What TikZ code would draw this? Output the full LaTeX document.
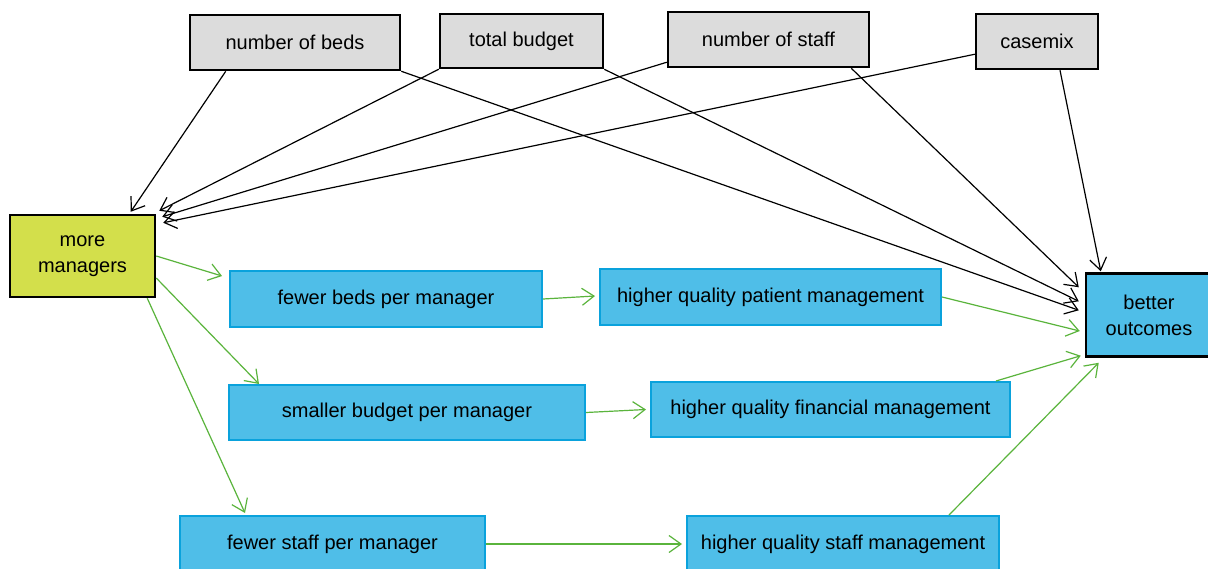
\documentclass[tikz,border=0pt]{standalone}
\usepackage{fontspec}
\setmainfont{Liberation Sans}
\usetikzlibrary{arrows.meta,calc}
\definecolor{boxgray}{HTML}{DCDCDC}
\definecolor{boxblue}{HTML}{4FBEE8}
\definecolor{bordblue}{HTML}{0AA2DC}
\definecolor{boxgreen}{HTML}{D3DF4B}
\definecolor{arrgreen}{HTML}{5AB43C}
\tikzset{
  base/.style={inner sep=0pt, align=center, font=\fontsize{20}{26}\selectfont},
  gbox/.style={base, fill=boxgray, draw=black, line width=2.5pt},
  bbox/.style={base, fill=boxblue, draw=bordblue, line width=2pt},
  kbox/.style={base, draw=black, line width=2.5pt},
  blk/.style={draw=black, line width=1.2pt, -{Straight Barb[length=12pt,width=17pt,line width=1.2pt]}},
  grn/.style={draw=arrgreen, line width=1.2pt, -{Straight Barb[length=12pt,width=17pt,line width=1.2pt]}}
}
\begin{document}
\begin{tikzpicture}[x=1pt,y=-1pt]
\useasboundingbox (0,0) rectangle (1208,568);
\fill[white] (0,0) rectangle (1208,568);
% top gray boxes
\node[gbox, minimum width=210pt, minimum height=55pt] (beds) at (295,42.5) {number of beds};
\node[gbox, minimum width=163pt, minimum height=54pt] (budget) at (521.5,41) {total budget};
\node[gbox, minimum width=201pt, minimum height=55pt] (staff) at (768.5,39.5) {number of staff};
\node[gbox, minimum width=122pt, minimum height=55pt] (casemix) at (1037,41.5) {casemix};
% left and right
\node[kbox, fill=boxgreen, minimum width=145pt, minimum height=82pt] (mgr) at (82.5,256) {more\\managers};
\node[kbox, fill=boxblue, minimum width=126pt, minimum height=83pt] (out) at (1149,315) {better\\outcomes};
% blue boxes
\node[bbox, minimum width=312pt, minimum height=56pt] (fbeds) at (386,299) {fewer beds per manager};
\node[bbox, minimum width=341pt, minimum height=56pt] (pat) at (770.5,297) {higher quality patient management};
\node[bbox, minimum width=356pt, minimum height=55pt] (sbud) at (407,412.5) {smaller budget per manager};
\node[bbox, minimum width=359pt, minimum height=55pt] (fin) at (830.5,409.5) {higher quality financial management};
\node[bbox, minimum width=305pt, minimum height=56pt] (fstaff) at (332.5,544) {fewer staff per manager};
\node[bbox, minimum width=312pt, minimum height=56pt] (smg) at (843,544) {higher quality staff management};
% black arrows to managers
\draw[blk] ($(beds.south west)+(37,0)$) -- ($(mgr.north west)+(122,-2)$);
\draw[blk] (budget.south west) -- ($(mgr.north east)+(3,-3)$);
\draw[blk] ($(staff.south west)+(0,-6)$) -- ($(mgr.north east)+(6,3)$);
\draw[blk] ($(casemix.south west)+(0,-16)$) -- ($(mgr.north east)+(7,9)$);
% black arrows to outcomes
\draw[blk] (beds.south east) -- ($(out.north west)+(-6,38)$);
\draw[blk] (budget.south east) -- ($(out.north west)+(-6,29)$);
\draw[blk] ($(staff.south east)+(-19,0)$) -- ($(out.north west)+(-6,15)$);
\draw[blk] ($(casemix.south)+(23,0)$) -- ($(out.north west)+(16,-1)$);
% green arrows
\draw[grn] (mgr.east) -- ($(fbeds.north west)+(-7,6)$);
\draw[grn] ($(mgr.east)+(0,22)$) -- ($(sbud.north west)+(31,0)$);
\draw[grn] ($(mgr.south east)+(-9,0)$) -- ($(fstaff.north west)+(66,-2)$);
\draw[grn] (fbeds.east) -- ($(pat.west)+(-4,-1)$);
\draw[grn] (sbud.east) -- ($(fin.west)+(-4,0)$);
\draw[grn] (fstaff.east) -- ($(smg.west)+(-4,0)$);
\draw[grn] (pat.east) -- ($(out.west)+(-5,16)$);
\draw[grn] ($(fin.north east)+(-15,0)$) -- ($(out.south west)+(-4,-2)$);
\draw[grn] ($(smg.north east)+(-51,0)$) -- ($(out.south west)+(14,5)$);
\end{tikzpicture}
\end{document}
